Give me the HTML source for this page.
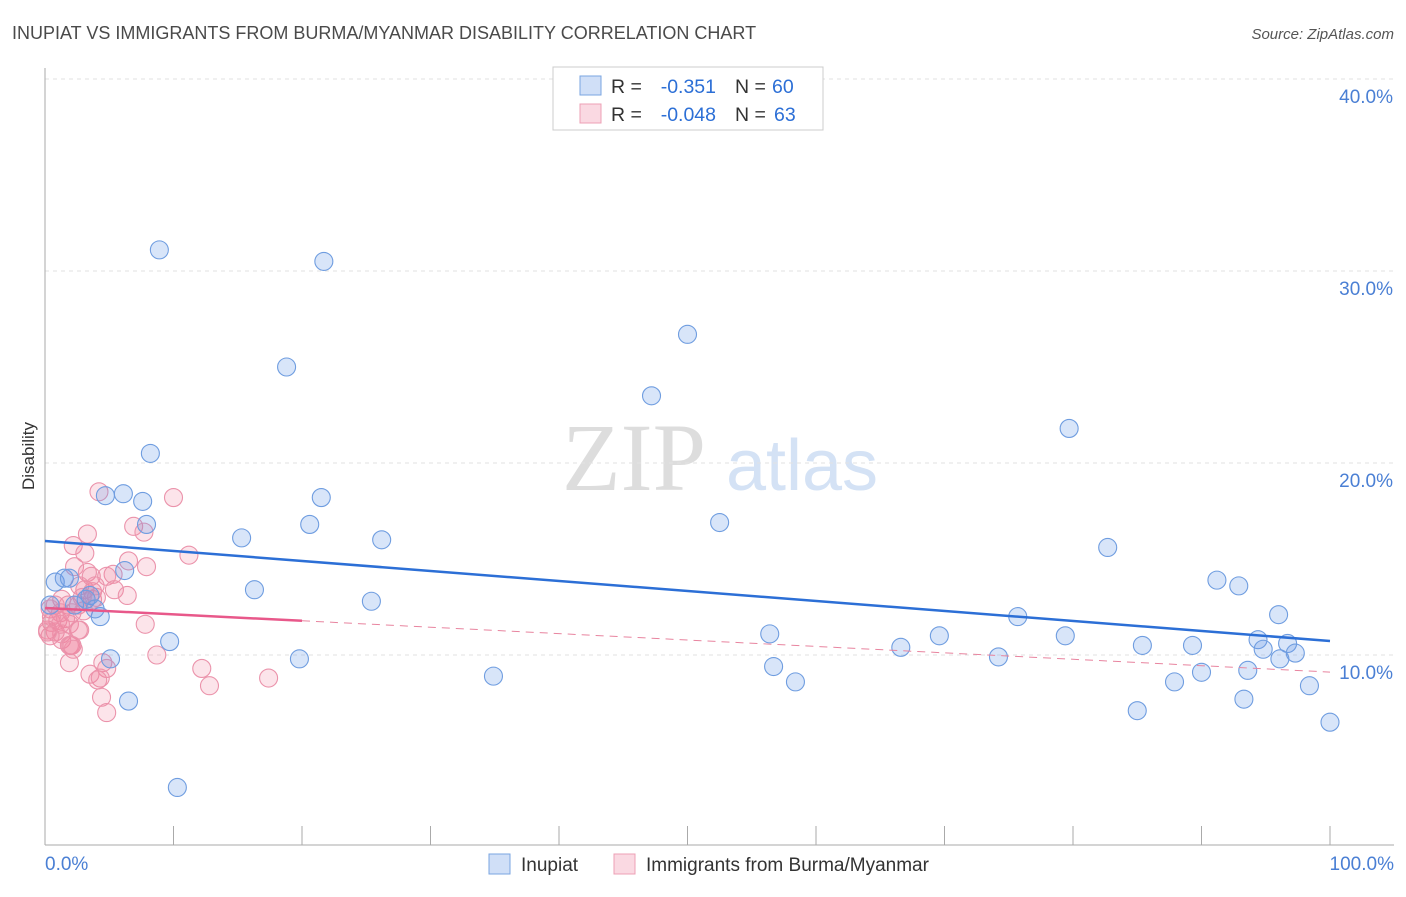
<!DOCTYPE html>
<html><head><meta charset="utf-8"><style>
body{margin:0;background:#fff;font-family:"Liberation Sans",sans-serif}
</style></head><body>
<svg id="c" width="1406" height="892" xmlns="http://www.w3.org/2000/svg" style="font-family:'Liberation Sans',sans-serif">
<text x="12" y="39" font-size="18" fill="#4a4a4a">INUPIAT VS IMMIGRANTS FROM BURMA/MYANMAR DISABILITY CORRELATION CHART</text>
<text x="1394" y="39" font-size="15" fill="#555" font-style="italic" text-anchor="end">Source: ZipAtlas.com</text>
<text x="34" y="456" font-size="17" fill="#333" text-anchor="middle" transform="rotate(-90 34 456)">Disability</text>
<g>
<text x="634" y="490" font-size="96" fill="#ddd" font-family="Liberation Serif" text-anchor="middle">ZIP</text>
<text x="802" y="490" font-size="72" fill="#d4e2f5" text-anchor="middle">atlas</text>
</g>
<g id="grid"></g><g id="axes"></g><g id="pts"></g><g id="trend"></g>
<g>
<rect x="553" y="67" width="270" height="63" fill="#fff" stroke="#ccc"/>
<rect x="580" y="76" width="21" height="19" fill="rgba(100,150,230,0.3)" stroke="#7aa5e0"/>
<text x="611" y="93" font-size="19.5" fill="#333">R =</text>
<text x="716" y="93" font-size="19.5" fill="#2c6fd6" text-anchor="end">-0.351</text>
<text x="735" y="93" font-size="19.5" fill="#333">N =</text>
<text x="772" y="93" font-size="19.5" fill="#2c6fd6">60</text>
<rect x="580" y="104" width="21" height="19" fill="rgba(240,130,160,0.3)" stroke="#eda0b5"/>
<text x="611" y="121" font-size="19.5" fill="#333">R =</text>
<text x="716" y="121" font-size="19.5" fill="#2c6fd6" text-anchor="end">-0.048</text>
<text x="735" y="121" font-size="19.5" fill="#333">N =</text>
<text x="774" y="121" font-size="19.5" fill="#2c6fd6">63</text>
</g>
<g>
<rect x="489" y="854" width="21" height="20" fill="rgba(100,150,230,0.3)" stroke="#7aa5e0"/>
<text x="521" y="871" font-size="19" fill="#333">Inupiat</text>
<rect x="614" y="854" width="21" height="20" fill="rgba(240,130,160,0.3)" stroke="#eda0b5"/>
<text x="646" y="871" font-size="19" fill="#333">Immigrants from Burma/Myanmar</text>
</g>
</svg>
<script>
const blueX=[8.9,21.7,18.8,50.0,47.2,79.7,8.2,6.1,4.7,7.6,21.5,7.9,20.6,52.5,15.3,26.2,82.7,6.2,0.8,1.5,1.9,16.3,91.2,92.9,25.4,96.0,75.7,4.3,3.5,3.2,2.3,3.9,9.7,56.4,69.6,79.4,85.4,89.3,94.4,96.7,94.8,66.6,5.1,19.8,74.2,97.3,96.1,56.7,90.0,93.6,34.9,58.4,87.9,98.4,6.5,93.3,85.0,100,10.3,0.4];
const blueY=[31.1,30.5,25.0,26.7,23.5,21.8,20.5,18.4,18.3,18.0,18.2,16.8,16.8,16.9,16.1,16.0,15.6,14.4,13.8,14.0,14.0,13.4,13.9,13.6,12.8,12.1,12.0,12.0,13.1,12.9,12.6,12.4,10.7,11.1,11.0,11.0,10.5,10.5,10.8,10.6,10.3,10.4,9.8,9.8,9.9,10.1,9.8,9.4,9.1,9.2,8.9,8.6,8.6,8.4,7.6,7.7,7.1,6.5,3.1,12.6];
const pinkX=[4.2,10.0,3.3,6.9,7.7,2.2,3.1,11.2,6.5,7.9,2.3,5.3,3.3,3.6,4.8,2.7,3.1,3.7,5.4,6.4,3.7,4.0,1.3,1.8,0.8,2.6,0.4,1.2,2.1,3.0,0.5,1.0,1.6,1.9,2.7,0.2,0.8,1.3,2.6,0.4,1.3,1.9,7.8,2.0,2.1,2.2,8.7,1.9,4.5,4.8,12.2,3.5,4.3,4.1,12.8,17.4,4.4,4.8,0.2,0.5,3.9,2.9,1.2];
const pinkY=[18.5,18.2,16.3,16.7,16.4,15.7,15.3,15.2,14.9,14.6,14.6,14.2,14.3,14.1,14.1,13.6,13.4,13.3,13.4,13.1,12.9,13.0,12.9,12.6,12.6,12.6,12.4,12.2,12.2,12.3,11.7,11.8,11.9,11.6,11.3,11.3,11.2,11.1,11.3,11.0,10.8,10.5,11.6,10.5,10.5,10.3,10.0,9.6,9.6,9.3,9.3,9.0,8.8,8.7,8.4,8.8,7.8,7.0,11.2,12.0,13.6,13.0,11.6];
const blueTrend=[15.94,10.73];
const pinkTrend=[12.45,9.11];
const pinkSolidEnd=20;
const yTicks=[10,20,30,40];
const xTicks=[0,10,20,30,40,50,60,70,80,90,100];
const NS='http://www.w3.org/2000/svg';
const sx=v=>45+v*12.85, sy=v=>847-v*19.2;
function mk(tag,attrs,parent){const e=document.createElementNS(NS,tag);for(const k in attrs)e.setAttribute(k,attrs[k]);document.getElementById(parent).appendChild(e);return e;}
yTicks.forEach(t=>{
 const l=mk('line',{x1:45,x2:1394,y1:sy(t),y2:sy(t),stroke:'#e2e2e2','stroke-dasharray':'4,4'},'grid');
 
 
 const tx=mk('text',{x:1393,y:sy(t)+24,'font-size':19,fill:'#4a7fd4','text-anchor':'end'},'grid');
 tx.textContent=t.toFixed(1)+'%';
 
 
});
mk('line',{x1:45,x2:45,y1:68,y2:845,stroke:'#aaa'},'axes');
mk('line',{x1:45,x2:1394,y1:845,y2:845,stroke:'#aaa'},'axes');
xTicks.forEach(t=>{const l=mk('line',{x1:sx(t),x2:sx(t),y1:826,y2:845,stroke:'#aaa'},'axes');
 
 });
[[0,'start','0.0%',45],[100,'end','100.0%',1394]].forEach(a=>{const tx=mk('text',{x:a[3],y:870,'font-size':19,fill:'#4a7fd4','text-anchor':a[1]},'axes');tx.textContent=a[2];
 
 });
function pts(X,Y,fill,stroke,name){X.forEach((x,i)=>{const c=mk('circle',{cx:sx(x),cy:sy(Y[i]),r:9,fill:fill,stroke:stroke,'stroke-width':1.1},'pts');
 
 });}
pts(pinkX,pinkY,'rgba(240,130,160,0.22)','#eb93ab','burma-point');
pts(blueX,blueY,'rgba(100,150,230,0.25)','#6f9de0','inupiat-point');
const bl=mk('line',{x1:sx(0),y1:sy(blueTrend[0]),x2:sx(100),y2:sy(blueTrend[1]),stroke:'#2c6fd6','stroke-width':2.5},'trend');


const pe=pinkTrend[0]+(pinkTrend[1]-pinkTrend[0])*pinkSolidEnd/100;
const ps=mk('line',{x1:sx(0),y1:sy(pinkTrend[0]),x2:sx(pinkSolidEnd),y2:sy(pe),stroke:'#e8588a','stroke-width':2.5},'trend');


const pd=mk('line',{x1:sx(pinkSolidEnd),y1:sy(pe),x2:sx(100),y2:sy(pinkTrend[1]),stroke:'#e8849f','stroke-width':1,'stroke-dasharray':'8,6'},'trend');


</script>
</body></html>
